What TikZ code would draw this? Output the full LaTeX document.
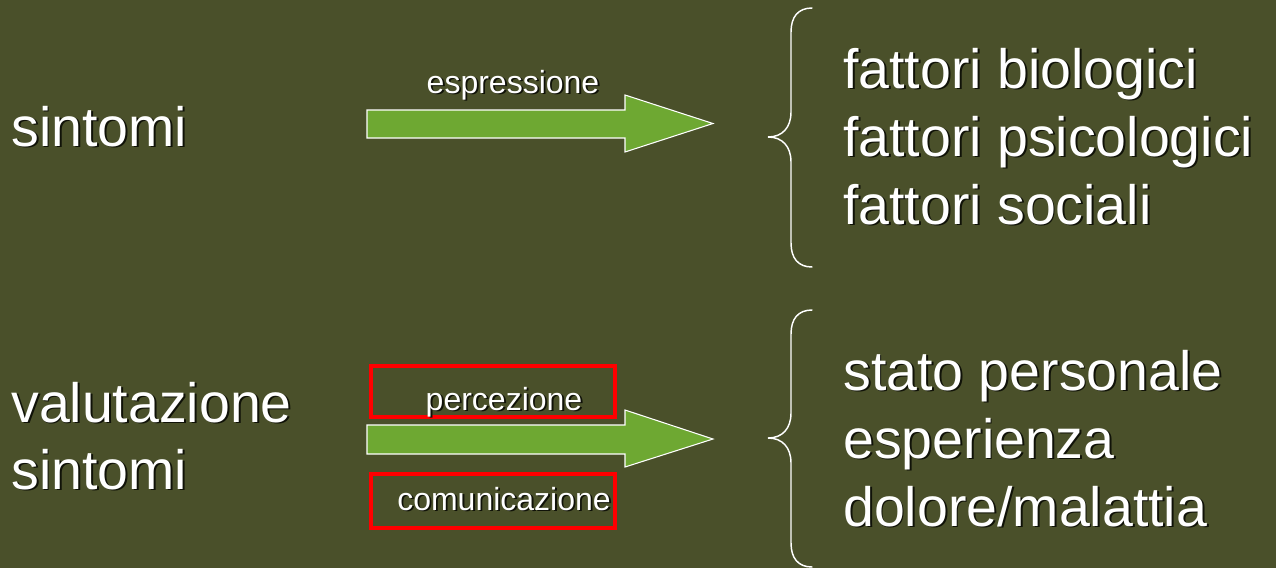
\documentclass[tikz,border=0pt]{standalone}
\usepackage{fontspec}
\setmainfont{Liberation Sans}
\definecolor{bgc}{HTML}{4A502A}
\definecolor{arrowc}{HTML}{6EA832}
\definecolor{shadowc}{HTML}{101208}
\newcommand{\shd}[1]{\leavevmode\rlap{\kern1.4pt\raisebox{-1.4pt}{\color{shadowc}#1}}#1}
\tikzset{
  big/.style={text=white, inner sep=0pt, anchor=base west, font=\fontsize{41.6pt}{50pt}\selectfont},
  small/.style={text=white, inner sep=0pt, anchor=base, font=\fontsize{24pt}{29pt}\selectfont},
  blockarrow/.style={fill=arrowc, draw=white, line width=0.8pt, line join=miter},
  redbox/.style={draw=red, line width=3pt},
  bracec/.style={draw=white, line width=1.1pt, line cap=round}
}
\begin{document}
\begin{tikzpicture}[x=0.75pt,y=-0.75pt]
\fill[bgc] (0,0) rectangle (1276,568);
\useasboundingbox (0,0) rectangle (1276,568);

% left labels
\node[big] (s1) at (11,146) {\shd{sintomi}};
\node[big] (v1) at (11,422) {\shd{valutazione}};
\node[big] (v2) at (11,489) {\shd{sintomi}};

% upper arrow
\draw[blockarrow] (367,110) -- (625,110) -- (625,95) -- (713,123.5) -- (625,152) -- (625,138) -- (367,138) -- cycle;
\coordinate (a1tip) at (713,123.5);
\node[small] (esp) at (513,93) {\shd{espressione}};

% lower arrow
\draw[blockarrow] (367,425) -- (625,425) -- (625,410) -- (713,439) -- (625,467) -- (625,454) -- (367,454) -- cycle;
\coordinate (a2tip) at (713,439);
\draw[redbox] (371,366) rectangle (615,417);
\draw[redbox] (371,474) rectangle (615,528);
\node[small] (perc) at (504,410) {\shd{percezione}};
\node[small] (com) at (504,510) {\shd{comunicazione}};

% braces
\draw[bracec] (812,8) .. controls (798,8) and (791,17) .. (791,32) -- (791,112)
  .. controls (791,128) and (782,137) .. (768,137)
  .. controls (782,137) and (791,146) .. (791,162) -- (791,243)
  .. controls (791,258) and (798,267) .. (812,267);
\draw[bracec] (812,310) .. controls (798,310) and (791,319) .. (791,334) -- (791,413)
  .. controls (791,429) and (782,438) .. (768,438)
  .. controls (782,438) and (791,447) .. (791,463) -- (791,543)
  .. controls (791,558) and (798,567) .. (812,567);

% right texts
\node[big] (f1) at (843,88) {\shd{fattori biologici}};
\node[big] (f2) at (843,156) {\shd{fattori psicologici}};
\node[big] (f3) at (843,224) {\shd{fattori sociali}};
\node[big] (p1) at (843,390) {\shd{stato personale}};
\node[big] (p2) at (843,458) {\shd{esperienza}};
\node[big] (p3) at (843,526) {\shd{dolore/malattia}};
\end{tikzpicture}
\end{document}
